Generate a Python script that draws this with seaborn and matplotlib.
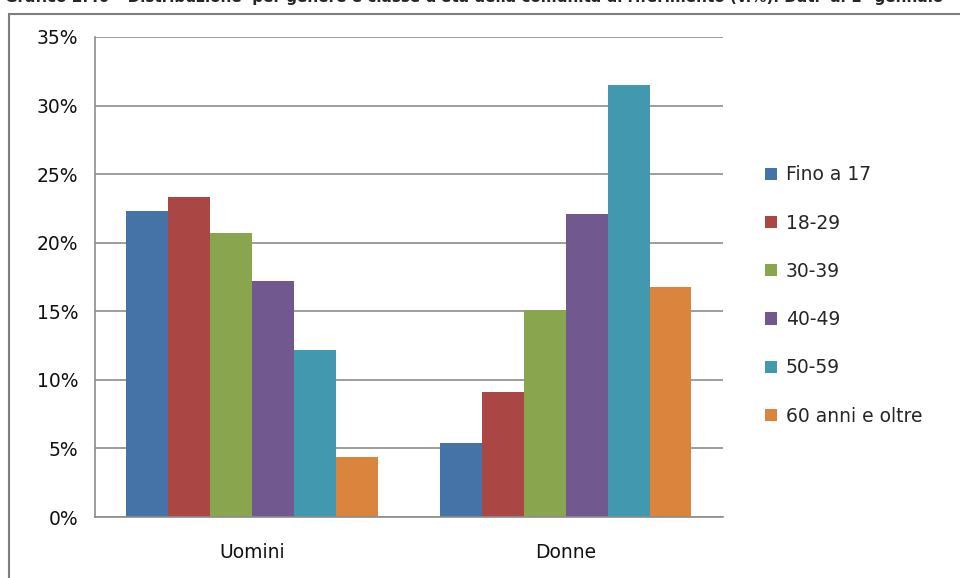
import numpy as np
import pandas as pd
import seaborn as sns
from matplotlib import pyplot as plt
from matplotlib.patches import Rectangle
from matplotlib.ticker import FuncFormatter, FixedLocator

# Data (percent)
generi = ['Uomini', 'Donne']
classi = ['Fino a 17', '18-29', '30-39', '40-49', '50-59', '60 anni e oltre']
uomini = [22.3, 23.3, 20.7, 17.2, 12.2, 4.4]
donne = [5.4, 9.1, 15.1, 22.1, 31.5, 16.8]
colori = ['#4572A7', '#AA4643', '#89A54E', '#71588F', '#4198AF', '#DB843D']

df = pd.DataFrame({
    'genere': [g for g in generi for _ in classi],
    'classe': classi * 2,
    'valore': uomini + donne,
})

sns.set_style('white')
plt.rcParams['font.family'] = ['DejaVu Sans']

fig = plt.figure(figsize=(9.6, 5.78), dpi=100)
ax = fig.add_axes([0.099, 0.1055, 0.654, 0.8305])

sns.barplot(data=df, x='genere', y='valore', hue='classe', order=generi,
            hue_order=classi, palette=colori, width=0.8, gap=0,
            saturation=1, linewidth=0, ax=ax)

ax.set_ylim(0, 35)
ax.set_xlim(-0.5, 1.5)
ax.set_yticks(np.arange(0, 36, 5))
ax.yaxis.set_major_formatter(FuncFormatter(lambda v, _: f'{v:.0f}%'))
ax.yaxis.grid(True, color='#8c8c8c', linewidth=1.2)
ax.set_axisbelow(True)
ax.set_xlabel('')
ax.set_ylabel('')

ax.xaxis.set_minor_locator(FixedLocator([-0.5, 0.5, 1.5]))
ax.tick_params(axis='x', which='major', length=0, pad=19, labelsize=13.5, colors='#111111')
ax.tick_params(axis='x', which='minor', length=8, width=1.2, color='#8c8c8c', direction='out')
ax.tick_params(axis='y', length=8, width=1.2, color='#8c8c8c', direction='out',
               labelsize=13.5, colors='#111111', pad=4)

for side in ['top', 'right']:
    ax.spines[side].set_visible(False)
for side in ['left', 'bottom']:
    ax.spines[side].set_color('#8c8c8c')
    ax.spines[side].set_linewidth(1.2)

ax.legend(loc='center left', bbox_to_anchor=(1.055, 0.4615), frameon=False,
          fontsize=13.5, handlelength=0.62, handleheight=0.62, handletextpad=0.5,
          labelspacing=1.56, borderaxespad=0)

# clipped caption and frame like the original screenshot
fig.text(0.005, 1.005, "Grafico 2.40 \u2013 Distribuzione  per genere e classe d'et\u00e0 della comunit\u00e0 di riferimento (v.%). Dati  al 1\u00b0 gennaio",
         fontsize=11, fontweight='bold', va='center', ha='left')
fig.patches.append(Rectangle((0.009, -0.01), 1.0, 0.986, transform=fig.transFigure,
                             fill=False, edgecolor='#7f7f7f', linewidth=1.5))

fig.savefig('out.png', dpi=100)
